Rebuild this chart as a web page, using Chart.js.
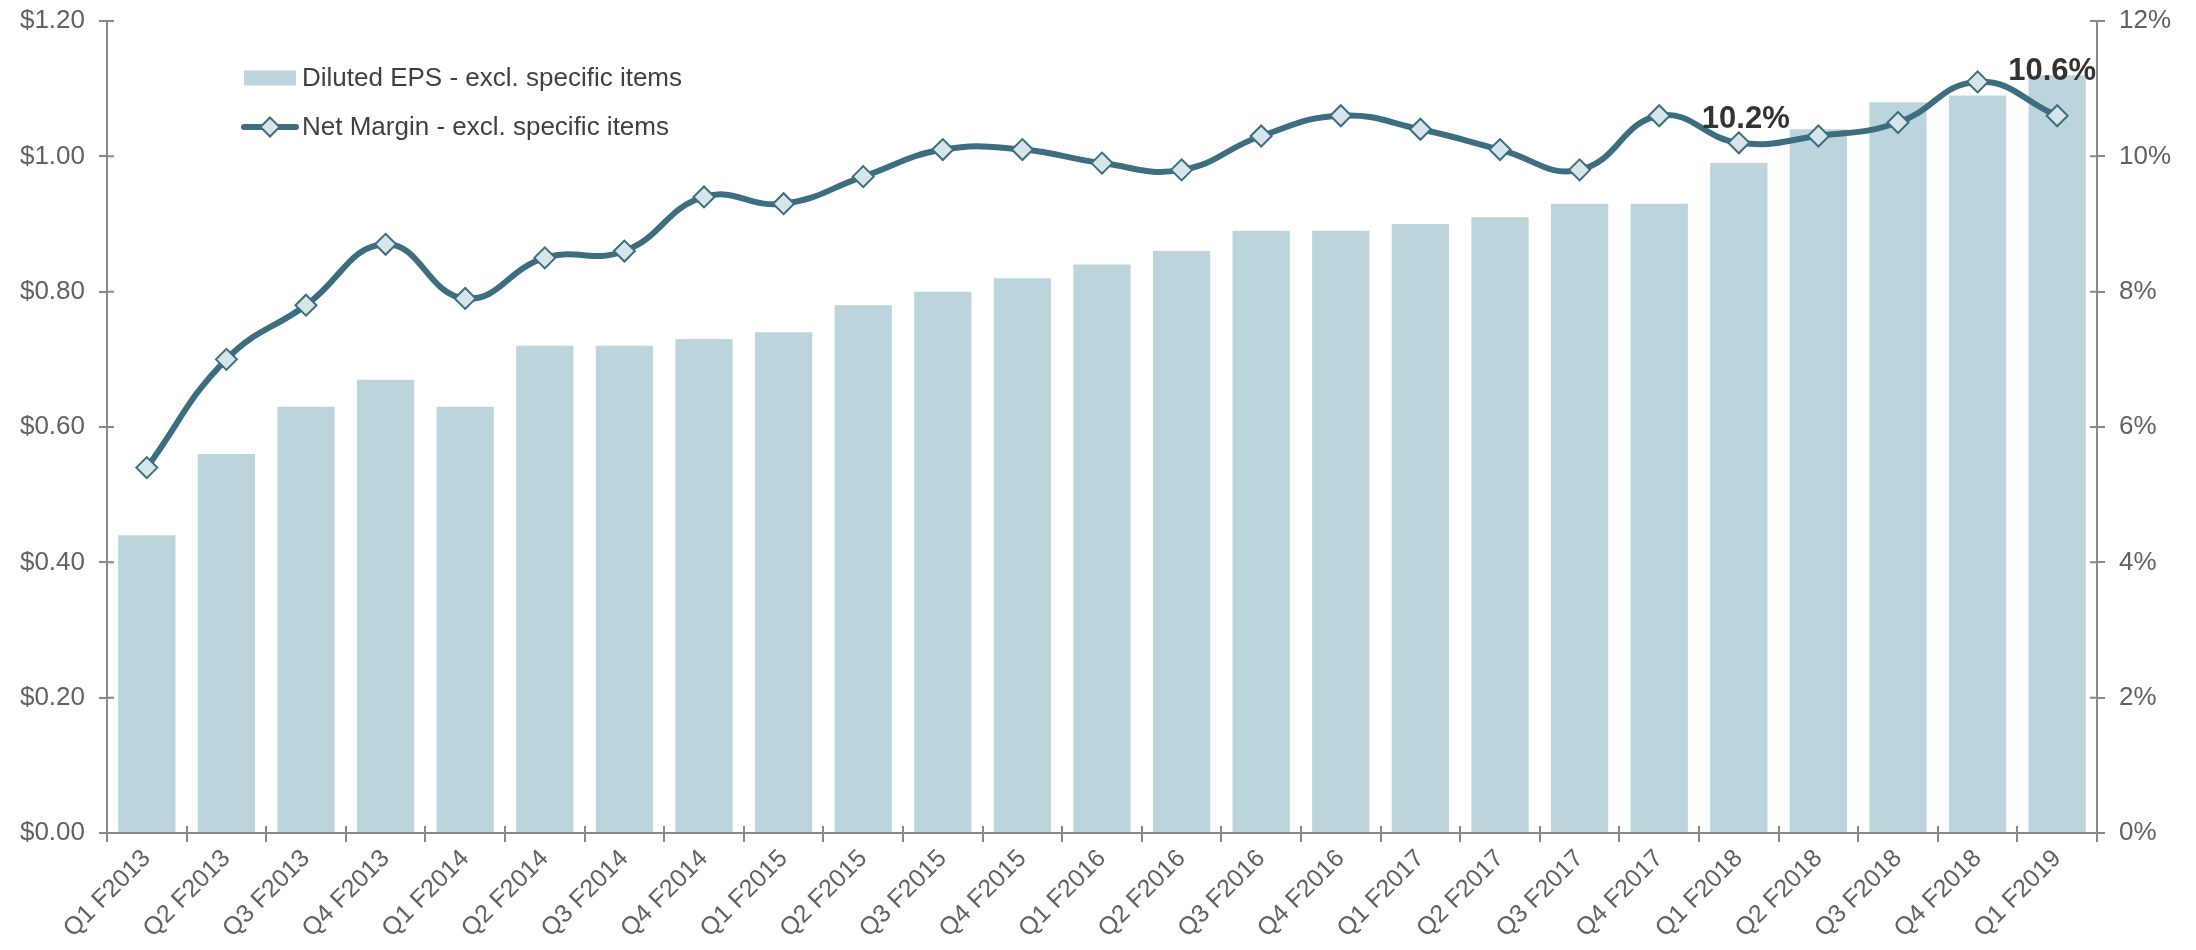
<!DOCTYPE html>
<html><head><meta charset="utf-8">
<script src="https://cdn.jsdelivr.net/npm/chart.js@4.4.1/dist/chart.umd.min.js"></script>
<style>html,body{margin:0;padding:0;background:#fff;}#wrap{width:2196px;height:950px;position:relative;}</style>
</head><body><div id="wrap"><canvas id="c" width="2196" height="950"></canvas></div>
<script>
const categories = ['Q1 F2013','Q2 F2013','Q3 F2013','Q4 F2013','Q1 F2014','Q2 F2014','Q3 F2014','Q4 F2014',
  'Q1 F2015','Q2 F2015','Q3 F2015','Q4 F2015','Q1 F2016','Q2 F2016','Q3 F2016','Q4 F2016',
  'Q1 F2017','Q2 F2017','Q3 F2017','Q4 F2017','Q1 F2018','Q2 F2018','Q3 F2018','Q4 F2018','Q1 F2019'];
const epsValues = [0.44,0.56,0.63,0.67,0.63,0.72,0.72,0.73,0.74,0.78,0.80,0.82,0.84,0.86,0.89,0.89,0.90,0.91,0.93,0.93,0.99,1.04,1.08,1.09,1.12];
const marginValues = [5.4,7.0,7.8,8.7,7.9,8.5,8.6,9.4,9.3,9.7,10.1,10.1,9.9,9.8,10.3,10.6,10.4,10.1,9.8,10.6,10.2,10.3,10.5,11.1,10.6];
const epsSeriesName = 'Diluted EPS - excl. specific items';
const marginSeriesName = 'Net Margin - excl. specific items';
const epsAxis = {min: 0, max: 1.2, step: 0.2};
const marginAxis = {min: 0, max: 12, step: 2};
const labelledIndices = [20, 24];

const FONT = '"Liberation Sans", Arial, sans-serif';
const AXIS = '#898989';
const BAR = '#BCD5DD';
const LINE = '#3D6E80';
const POINTFILL = '#D6E5EA';
const TICKCOLOR = '#626262';
const labelOffsets = {20: {dx: 7, dy: -15}, 24: {dx: -5, dy: -36}};

const crossTicks = {
  id: 'crossTicks',
  afterDatasetsDraw(chart) {
    const ctx = chart.ctx, ca = chart.chartArea;
    ctx.save();
    ctx.strokeStyle = AXIS; ctx.lineWidth = 2;
    const y = chart.scales.y, y1 = chart.scales.y1;
    ctx.beginPath();
    y.ticks.forEach(t => { const p = y.getPixelForValue(t.value); ctx.moveTo(ca.left, p); ctx.lineTo(ca.left + 7, p); });
    y1.ticks.forEach(t => { const p = y1.getPixelForValue(t.value); ctx.moveTo(ca.right, p); ctx.lineTo(ca.right - 7, p); });
    const n = categories.length, w = (ca.right - ca.left) / n;
    for (let i = 0; i <= n; i++) { const p = Math.round(ca.left + i * w); ctx.moveTo(p, ca.bottom); ctx.lineTo(p, ca.bottom - 7); }
    ctx.stroke();
    ctx.restore();
  }
};

const pointLabels = {
  id: 'pointLabels',
  afterDatasetsDraw(chart) {
    const ctx = chart.ctx;
    const meta = chart.getDatasetMeta(0);
    ctx.save();
    ctx.font = 'bold 31px ' + FONT;
    ctx.fillStyle = '#333333';
    ctx.textAlign = 'center';
    ctx.textBaseline = 'alphabetic';
    labelledIndices.forEach(i => {
      const el = meta.data[i];
      const o = labelOffsets[i];
      ctx.fillText(marginValues[i].toFixed(1) + '%', el.x + o.dx, el.y + o.dy);
    });
    ctx.restore();
  }
};

const innerLegend = {
  id: 'innerLegend',
  afterDraw(chart) {
    const ctx = chart.ctx, ca = chart.chartArea;
    const x0 = ca.left + 137, rows = [ca.top + 57, ca.top + 106];
    ctx.save();
    ctx.font = '26px ' + FONT;
    ctx.textBaseline = 'middle';
    ctx.textAlign = 'left';
    const ds1 = chart.data.datasets[1];
    ctx.fillStyle = ds1.backgroundColor;
    ctx.fillRect(x0, rows[0] - 7.5, 52, 15);
    ctx.fillStyle = '#404040';
    ctx.fillText(ds1.label, x0 + 58, rows[0] + 1);
    const ds0 = chart.data.datasets[0];
    ctx.strokeStyle = ds0.borderColor; ctx.lineWidth = 6; ctx.lineCap = 'round';
    ctx.beginPath(); ctx.moveTo(x0, rows[1]); ctx.lineTo(x0 + 52, rows[1]); ctx.stroke();
    const cx = x0 + 26, r = 9.5;
    ctx.beginPath(); ctx.moveTo(cx, rows[1] - r); ctx.lineTo(cx + r, rows[1]); ctx.lineTo(cx, rows[1] + r); ctx.lineTo(cx - r, rows[1]); ctx.closePath();
    ctx.fillStyle = ds0.pointBackgroundColor; ctx.fill();
    ctx.lineWidth = 2; ctx.strokeStyle = ds0.pointBorderColor; ctx.stroke();
    ctx.fillStyle = '#404040';
    ctx.fillText(ds0.label, x0 + 58, rows[1] + 1);
    ctx.restore();
  }
};

new Chart(document.getElementById('c'), {
  data: {
    labels: categories,
    datasets: [
      {
        type: 'line', label: marginSeriesName, data: marginValues, yAxisID: 'y1', order: 0,
        borderColor: LINE, borderWidth: 6, tension: 0.45,
        pointStyle: 'rectRot', pointRadius: 10.5, pointBackgroundColor: POINTFILL, pointBorderColor: LINE, pointBorderWidth: 2
      },
      {
        type: 'bar', label: epsSeriesName, data: epsValues, yAxisID: 'y', order: 1,
        backgroundColor: BAR, categoryPercentage: 1, barPercentage: 0.72
      }
    ]
  },
  options: {
    responsive: false, animation: false, devicePixelRatio: 1,
    layout: {padding: {top: 21, left: 0, right: 0, bottom: 0}},
    plugins: {legend: {display: false}, tooltip: {enabled: false}},
    scales: {
      x: {
        grid: {display: true, drawOnChartArea: false, drawTicks: true, tickLength: 9, color: AXIS, lineWidth: 2, offset: true},
        border: {display: true, color: AXIS, width: 2},
        ticks: {color: TICKCOLOR, font: {family: FONT, size: 25}, minRotation: 45, maxRotation: 45, padding: 2, autoSkip: false},
        afterFit(s) { s.height = 117; s.paddingLeft = 0; s.paddingRight = 0; }
      },
      y: {
        position: 'left', min: epsAxis.min, max: epsAxis.max,
        grid: {drawOnChartArea: false, drawTicks: true, tickLength: 8, color: AXIS, lineWidth: 2},
        border: {display: true, color: AXIS, width: 2},
        ticks: {stepSize: epsAxis.step, color: TICKCOLOR, font: {family: FONT, size: 26}, padding: 14,
          callback: v => '$' + Number(v).toFixed(2)},
        afterFit(s) { s.width = 107; s.paddingTop = 0; s.paddingBottom = 0; }
      },
      y1: {
        position: 'right', min: marginAxis.min, max: marginAxis.max,
        grid: {drawOnChartArea: false, drawTicks: true, tickLength: 8, color: AXIS, lineWidth: 2},
        border: {display: true, color: AXIS, width: 2},
        ticks: {stepSize: marginAxis.step, color: TICKCOLOR, font: {family: FONT, size: 26}, padding: 14,
          callback: v => v + '%'},
        afterFit(s) { s.width = 99; s.paddingTop = 0; s.paddingBottom = 0; }
      }
    }
  },
  plugins: [crossTicks, pointLabels, innerLegend]
});
</script>
</body></html>
